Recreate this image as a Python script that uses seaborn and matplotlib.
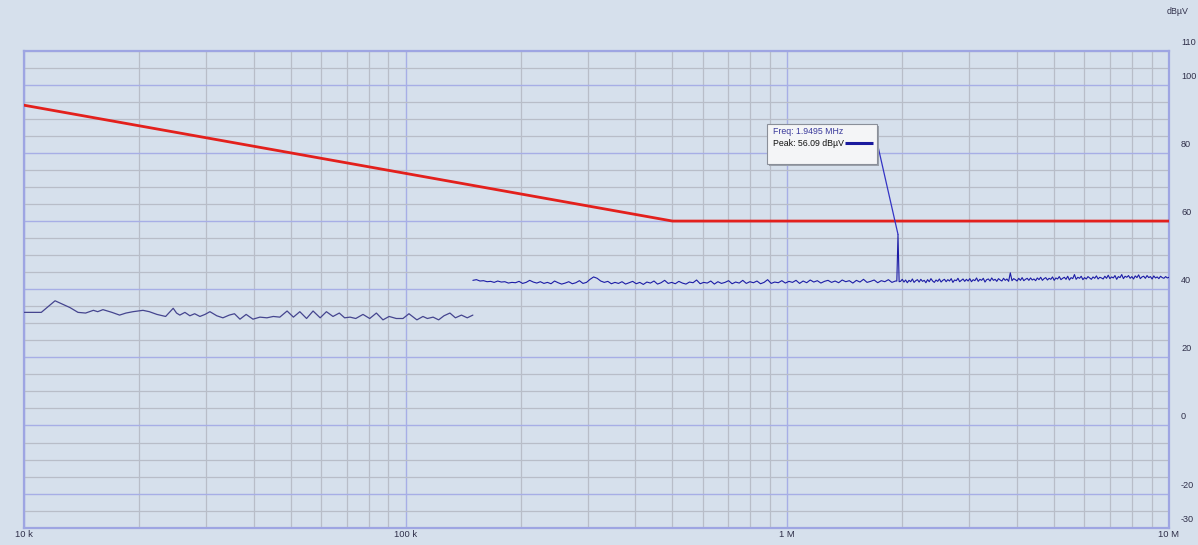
import numpy as np
import pandas as pd
import matplotlib
matplotlib.use("Agg")
import matplotlib.pyplot as plt
import seaborn as sns
from matplotlib.ticker import FixedLocator, MultipleLocator, LogLocator, NullFormatter
from matplotlib.transforms import ScaledTranslation
from matplotlib.patches import Rectangle

# ---------------- data ----------------
# limit line (dBuV)
limit_freq_hz = [10e3, 500e3, 10e6]
limit_dbuv = [94.0, 60.0, 60.0]

# sweep 1: 10 kHz .. 150 kHz
scan1_freq_khz = [10, 11.1, 12.06, 13.2, 13.85, 14.5, 15.2, 15.6, 16.1, 17.0,
                  17.8, 18.5, 19.3, 20.5, 21.3, 22.3, 23.5, 24.6, 25.1, 25.6,
                  26.4, 27.2, 28.0, 28.9, 29.8, 30.7, 32.0, 33.2, 34.5, 35.6,
                  36.8, 38.2, 39.8, 41.5, 43.3, 45.0, 46.8, 48.9, 50.8, 52.8,
                  55.0, 57.2, 59.7, 62.0, 64.5, 67.0, 69.2, 71.5, 74.0, 77.3,
                  80.5, 83.8, 87.2, 90.5, 94.5, 98.4, 102, 107, 111, 114,
                  118, 122, 126, 130.6, 135, 140, 145, 150]
scan1_dbuv = [33.2, 33.2, 36.6, 34.6, 33.2, 33.0, 33.8, 33.4, 34.0, 33.2,
              32.4, 33.0, 33.4, 33.8, 33.4, 32.6, 32.0, 34.4, 33.0, 32.4,
              33.2, 32.2, 32.8, 32.0, 32.6, 33.4, 32.2, 31.6, 32.4, 32.8,
              31.2, 32.6, 31.2, 31.8, 31.6, 32.0, 31.8, 33.6, 31.8, 33.4,
              31.4, 33.6, 31.6, 33.4, 32.0, 33.0, 31.6, 31.8, 31.4, 32.6,
              31.4, 33.0, 31.0, 32.0, 31.4, 31.4, 32.8, 31.0, 32.0, 31.4,
              31.8, 31.0, 32.2, 33.0, 31.6, 32.4, 31.6, 32.4]

# sweep 2a: 150 kHz .. 1.92 MHz (log-spaced receiver steps)
scan2a_start_hz, scan2a_stop_hz = 150e3, 1.92e6
scan2a_dbuv = [
    42.6, 42.8, 42.4, 42.5, 42.2, 42.3, 42.0, 42.4, 42.1, 42.2, 41.8, 42.0, 41.9, 42.3, 41.7, 42.0, 42.6, 42.1, 41.8, 42.2,
    41.7, 42.0, 41.6, 42.4, 41.9, 41.5, 41.8, 42.2, 41.6, 41.9, 42.5, 41.7, 42.0, 42.9, 43.6, 43.2, 42.4, 42.0, 42.3, 41.6,
    42.0, 41.7, 42.2, 41.5, 41.9, 42.3, 41.6, 42.0, 41.4, 42.1, 41.8, 42.4, 41.5, 41.9, 42.6, 41.7, 42.0, 41.6, 42.3, 41.8,
    41.5, 42.1, 41.9, 42.7, 41.6, 42.0, 41.8, 42.4, 41.5, 42.2, 41.7, 42.0, 42.5, 41.6, 42.1, 41.8, 42.6, 41.7, 42.2, 41.9,
    42.4, 41.6, 42.0, 42.8, 41.7, 42.1, 41.9, 42.5, 41.8, 42.3, 42.0, 42.6, 41.7, 42.4, 41.9, 42.7, 42.1, 42.5, 41.8, 42.3,
    42.6, 42.0, 42.4, 41.9, 42.7, 42.2, 42.5, 41.8, 42.6, 42.1, 42.9, 42.0, 42.3, 42.7, 41.9, 42.5, 42.2, 42.8, 42.0, 42.4]

# narrow emission at the marker
spike_freq_hz = [1.936e6, 1.9495e6, 1.963e6]
spike_dbuv = [42.4, 56.09, 42.2]

# sweep 2b: 1.98 MHz .. 10 MHz (denser on the log axis)
scan2b_start_hz, scan2b_stop_hz = 1.98e6, 10e6
scan2b_dbuv = [
    42.3, 42.9, 42.1, 42.7, 41.9, 42.6, 42.2, 43.0, 42.0, 42.5, 42.8, 42.1, 42.9, 42.3, 42.6, 41.9, 42.8, 42.2, 43.1, 42.4,
    42.0, 42.7, 42.3, 43.0, 42.1, 42.6, 42.9, 42.2, 42.8, 42.4, 43.1, 42.0, 42.7, 42.5, 43.2, 42.2, 42.6, 43.0, 42.3, 42.9,
    42.4, 43.1, 42.2, 42.8, 42.5, 43.3, 42.3, 42.9, 42.6, 43.2, 42.1, 42.8, 43.0, 42.4, 43.3, 42.6, 42.9, 42.3, 43.1, 42.7,
    42.4, 43.2, 42.6, 43.0, 42.3, 44.8, 42.5, 43.1, 42.8, 42.4, 43.2, 42.6, 43.4, 42.5, 42.9, 43.2, 42.6, 43.3, 42.7, 43.0,
    42.5, 43.3, 42.8, 43.5, 42.6, 43.1, 43.4, 42.7, 43.2, 42.9, 43.6, 42.6, 43.3, 43.0, 43.7, 42.8, 43.2, 43.5, 42.9, 43.8,
    42.7, 43.4, 43.1, 44.3, 42.9, 43.5, 43.2, 43.8, 42.8, 43.4, 43.0, 43.7, 43.3, 42.9, 43.6, 43.2, 43.9, 43.0, 43.5, 43.3,
    43.0, 43.8, 43.2, 44.1, 43.1, 43.6, 43.3, 44.0, 42.9, 43.7, 43.4, 44.3, 43.1, 43.8, 43.5, 44.0, 43.2, 43.7, 43.0, 43.9,
    43.4, 44.2, 43.1, 43.6, 43.8, 43.2, 44.0, 43.4, 43.7, 43.0, 43.9, 43.3, 43.6, 43.1, 43.8, 43.4, 43.2, 43.7, 43.3, 43.5]

marker_freq_text = "Freq: 1.9495 MHz"
marker_peak_text = "Peak: 56.09 dB\u00b5V"

x_tick_vals = [1e4, 1e5, 1e6, 1e7]
x_tick_labels = ["10 k", "100 k", "1 M", "10 M"]
y_label_vals = [110, 100, 80, 60, 40, 20, 0, -20, -30]
y_major_grid = [100, 80, 60, 40, 20, 0, -20]
unit_label = "dB\u00b5V"

# ---------------- styling ----------------
BG = "#d6e0ec"
BLUE_GRID = "#a7aee6"
GRAY_GRID = "#b8bdc8"
SPINE = "#9ea5e2"
TXT = "#30304a"

sns.set_theme(style="white")
plt.rcParams["font.family"] = ["Liberation Sans", "DejaVu Sans"]

fig = plt.figure(figsize=(11.98, 5.45), dpi=100, facecolor=BG)
ax = fig.add_axes([24 / 1198, 1 - 527.7 / 545, 1145 / 1198, (527.7 - 50.7) / 545])
ax.set_facecolor(BG)

# data frames
df_limit = pd.DataFrame({"f": limit_freq_hz, "v": limit_dbuv})
df1 = pd.DataFrame({"f": np.array(scan1_freq_khz) * 1e3, "v": scan1_dbuv})
f2a = np.geomspace(scan2a_start_hz, scan2a_stop_hz, len(scan2a_dbuv))
f2b = np.geomspace(scan2b_start_hz, scan2b_stop_hz, len(scan2b_dbuv))
df2 = pd.DataFrame({"f": np.concatenate([f2a, spike_freq_hz, f2b]),
                    "v": np.concatenate([scan2a_dbuv, spike_dbuv, scan2b_dbuv])})

sns.lineplot(data=df_limit, x="f", y="v", ax=ax, color="#e3201c", lw=2.0,
             estimator=None, zorder=4)
sns.lineplot(data=df1, x="f", y="v", ax=ax, color="#45458f", lw=0.9,
             estimator=None, zorder=3)
sns.lineplot(data=df2, x="f", y="v", ax=ax, color="#1c1ca6", lw=0.8,
             estimator=None, zorder=3)

ax.set_xscale("log")
ax.set_xlim(1e4, 1e7)
ax.set_ylim(-30, 110)
ax.set_xlabel("")
ax.set_ylabel("")

# grids
ax.xaxis.set_major_locator(FixedLocator(x_tick_vals))
ax.xaxis.set_minor_locator(LogLocator(base=10, subs=np.arange(2, 10)))
ax.xaxis.set_minor_formatter(NullFormatter())
ax.set_xticklabels(x_tick_labels)
ax.yaxis.set_major_locator(FixedLocator(y_major_grid))
ax.yaxis.set_minor_locator(MultipleLocator(5))
ax.set_axisbelow(True)
ax.grid(which="major", axis="both", color=BLUE_GRID, lw=1.0)
ax.grid(which="minor", axis="both", color=GRAY_GRID, lw=0.9)

ax.tick_params(axis="both", which="both", length=0)
ax.tick_params(axis="x", labelsize=6.8, colors=TXT, pad=1.5)
ax.tick_params(axis="y", labelleft=False, labelright=False)

for s in ax.spines.values():
    s.set_color(SPINE)
    s.set_linewidth(1.6)

# right-side value labels, drawn slightly above their level
tr = ax.get_yaxis_transform() + ScaledTranslation(0, 8.5 / 100, fig.dpi_scale_trans)
for v in y_label_vals:
    ax.text((1181 - 24) / 1145, v, str(v), transform=tr, ha="left", va="center",
            fontsize=6.6, color=TXT, clip_on=False)

fig.text(1178 / 1198, 1 - 12 / 545, unit_label, ha="center", va="center",
         fontsize=6.4, color=TXT)

# marker box
bx0, bx1 = (767 - 24) / 1145, (877 - 24) / 1145
by0, by1 = (527.7 - 164) / 477, (527.7 - 124) / 477
shadow = Rectangle((bx0 + 0.002, by0 - 0.005), bx1 - bx0, by1 - by0,
                   transform=ax.transAxes, facecolor="#9aa0aa", edgecolor="none",
                   zorder=6)
box = Rectangle((bx0, by0), bx1 - bx0, by1 - by0, transform=ax.transAxes,
                facecolor="#f4f5f7", edgecolor="#8a8f99", lw=0.8, zorder=7)
ax.add_patch(shadow)
ax.add_patch(box)
ax.text(bx0 + 0.005, (527.7 - 132) / 477, marker_freq_text, transform=ax.transAxes,
        fontsize=6.3, color="#3a3a9c", va="center", ha="left", zorder=8)
ax.text(bx0 + 0.005, (527.7 - 143.5) / 477, marker_peak_text, transform=ax.transAxes,
        fontsize=6.3, color="#111111", va="center", ha="left", zorder=8)
ax.plot([(845 - 24) / 1145, (873 - 24) / 1145], [(527.7 - 143) / 477] * 2,
        transform=ax.transAxes, color="#1a1a9e", lw=2.2, zorder=8,
        solid_capstyle="butt")
ax.annotate("", xy=(spike_freq_hz[1], spike_dbuv[1]), xycoords="data",
            xytext=(bx1, (527.7 - 142) / 477), textcoords="axes fraction",
            arrowprops=dict(arrowstyle="-", color="#3434c4", lw=0.9,
                            shrinkA=0, shrinkB=0), zorder=5)

fig.savefig("out.png", dpi=100, facecolor=BG)
